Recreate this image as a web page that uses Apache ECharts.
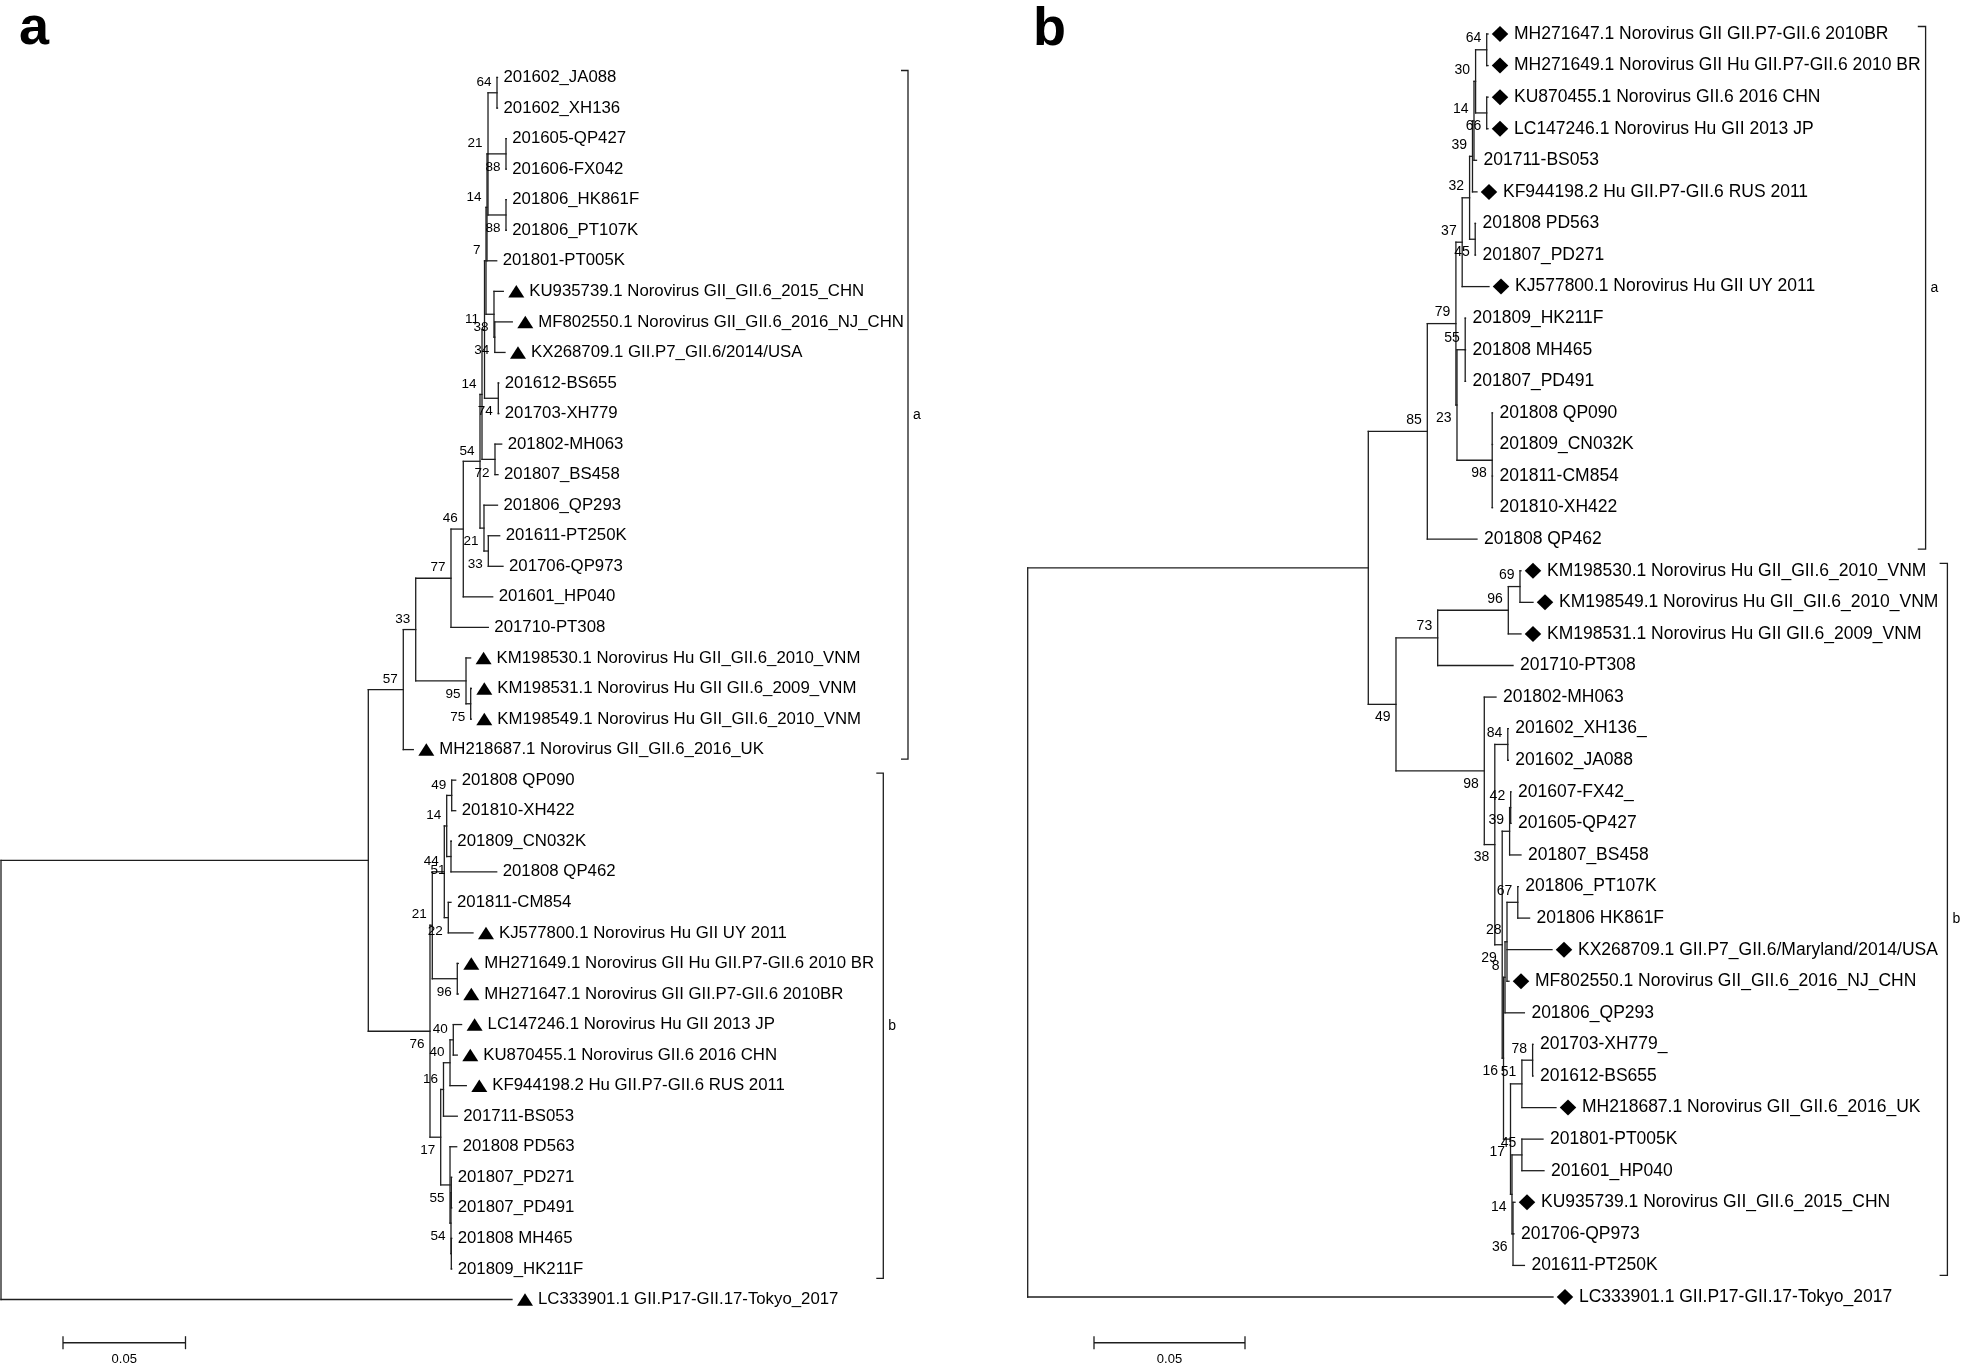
<!DOCTYPE html>
<html>
<head>
<meta charset="utf-8">
<title>GII.6 norovirus phylogenetic trees</title>
<script src="https://cdn.jsdelivr.net/npm/echarts@6.0.0/dist/echarts.min.js"></script>
<style>
  html, body { margin: 0; padding: 0; background: #ffffff; }
  #chart { width: 1961px; height: 1366px; }
</style>
</head>
<body>
<div id="chart"></div>
<script>
// ======================= DATA =======================
// Trees in Newick form: branch length = substitutions per site, internal label = bootstrap (%)

// ---- Panel a ----
const a_E  = "(('201602_JA088':0.0002,'201602_XH136':0.0002)64:0.00367,('201605-QP427':0.00012,'201606-FX042':0.00012)88:0.00734,('201806_HK861F':0.00012,'201806_PT107K':0.00012)88:0.00734)21";
const a_C  = "(" + a_E + ":0.00041,'201801-PT005K':0.00396)14";
const a_KU = "('KU935739.1 Norovirus GII_GII.6_2015_CHN':0.0038,('MF802550.1 Norovirus GII_GII.6_2016_NJ_CHN':0.00714,'KX268709.1 GII.P7_GII.6/2014/USA':0.00416)34:0.00033)38";
const a_B  = "(" + a_C + ":0.00041," + a_KU + ":0.00326)7";
const a_A  = "(" + a_B + ":0.00061,('201612-BS655':0.0002,'201703-XH779':0.0002)74:0.00563)11";
const a_T  = "(" + a_A + ":0.00102,('201802-MH063':0.00274,'201807_BS458':0.00123)72:0.0053)14";
const a_54 = "(" + a_T + ":0.00082,('201806_QP293':0.00551,('201611-PT250K':0.00465,'201706-QP973':0.006)33:0.00176)21:0.00163)54";
const a_77 = "((" + a_54 + ":0.00682,'201601_HP040':0.012)46:0.00502,'201710-PT308':0.01523)77";
const a_95 = "('KM198530.1 Norovirus Hu GII_GII.6_2010_VNM':0.00187,('KM198531.1 Norovirus Hu GII GII.6_2009_VNM':0.00025,'KM198549.1 Norovirus Hu GII_GII.6_2010_VNM':0.00025)75:0.00191)95";
const a_57 = "((" + a_77 + ":0.0144," + a_95 + ":0.02053)33:0.00507,'MH218687.1 Norovirus GII_GII.6_2016_UK':0.00409)57";
const a_X  = "(('201808 QP090':0.00163,'201810-XH422':0.00163)49:0.00204,('201809_CN032K':0.00013,'201808 QP462':0.01866)51:0.00175)14";
const a_21 = "((" + a_X + ":0.00098,('201811-CM854':0.0011,'KJ577800.1 Norovirus Hu GII UY 2011':0.01008)22:0.00163)44:0.0049,('MH271649.1 Norovirus GII Hu GII.P7-GII.6 2010 BR':0.00041,'MH271647.1 Norovirus GII GII.P7-GII.6 2010BR':0.00041)96:0.0102)21";
const a_16 = "((('LC147246.1 Norovirus Hu GII 2013 JP':0.00339,'KU870455.1 Norovirus GII.6 2016 CHN':0.00163)40:0.00134,'KF944198.2 Hu GII.P7-GII.6 RUS 2011':0.00665)40:0.00266,'201711-BS053':0.00563)16";
const a_55 = "('201808 PD563':0.00273,(('201807_PD271':0.00016,'201807_PD491':0.00016):0.00013,('201808 MH465':0.00016,'201809_HK211F':0.00016):0.00013)54:0.0004)55";
const a_76 = "(" + a_21 + ":0.00094,(" + a_16 + ":0.00114," + a_55 + ":0.0038)17:0.00437)76";
const treeA = "((" + a_57 + ":0.01428," + a_76 + ":0.02518):0.14992,'LC333901.1 GII.P17-GII.17-Tokyo_2017':0.20857);";

// ---- Panel b ----
const b_30  = "(('MH271647.1 Norovirus GII GII.P7-GII.6 2010BR':0.00043,'MH271649.1 Norovirus GII Hu GII.P7-GII.6 2010 BR':0.00043)64:0.00368,('KU870455.1 Norovirus GII.6 2016 CHN':0.00043,'LC147246.1 Norovirus Hu GII 2013 JP':0.00043)66:0.00368)30";
const b_39  = "((" + b_30 + ":0.00053,'201711-BS053':0.00083)14:0.0005,'KF944198.2 Hu GII.P7-GII.6 RUS 2011':0.00149)39";
const b_37  = "((" + b_39 + ":0.00096,('201808 PD563':0.0001,'201807_PD271':0.0001)45:0.00186)32:0.00245,'KJ577800.1 Norovirus Hu GII UY 2011':0.00888)37";
const b_23  = "(('201809_HK211F':0.0001,'201808 MH465':0.0001,'201807_PD491':0.0001)55:0.00272,('201808 QP090':0.0001,'201809_CN032K':0.0001,'201811-CM854':0.0001,'201810-XH422':0.0001)98:0.01166)23";
const b_85  = "((" + b_37 + ":0.00208," + b_23 + ":0.00036)79:0.00947,'201808 QP462':0.01645)85";
const b_73  = "((('KM198530.1 Norovirus Hu GII_GII.6_2010_VNM':0.00033,'KM198549.1 Norovirus Hu GII_GII.6_2010_VNM':0.00431)69:0.00387,'KM198531.1 Norovirus Hu GII GII.6_2009_VNM':0.0042)96:0.02338,'201710-PT308':0.02494)73";
const b_39b = "(('201607-FX42_':0.0001,'201605-QP427':0.0001)42:0.00036,'201807_BS458':0.00377)39";
const b_8   = "((('201806_PT107K':0.00014,'201806 HK861F':0.00391)67:0.00357,'KX268709.1 GII.P7_GII.6/Maryland/2014/USA':0.0149,'MF802550.1 Norovirus GII_GII.6_2016_NJ_CHN':0.00066)28:0.00066,'201806_QP293':0.00642)8";
const b_17  = "((('201703-XH779_':0.00013,'201612-BS655':0.00013)78:0.00355,'MH218687.1 Norovirus GII_GII.6_2016_UK':0.01129)51:0.00377,(('201801-PT005K':0.00699,'201601_HP040':0.00732)45:0.00328,('KU935739.1 Norovirus GII_GII.6_2015_CHN':0.00066,'201706-QP973':0.00033,'201611-PT250K':0.00377)36:0.00034)14:0.00049)17";
const b_29  = "(" + b_39b + ":0.00245,(" + b_8 + ":0.0005," + b_17 + ":0.00232)16:0.00043)29";
const b_98  = "('201802-MH063':0.00388,(('201602_XH136_':0.00017,'201602_JA088':0.00017)84:0.0043," + b_29 + ":0.00245)38:0.00348)98";
const treeB = "((" + b_85 + ":0.01954,(" + b_73 + ":0.01381," + b_98 + ":0.02924)49:0.00917):0.11278,'LC333901.1 GII.P17-GII.17-Tokyo_2017':0.17394);";

// Clade brackets: [name, first leaf index, last leaf index]
const cladesA = [['a', 0, 22], ['b', 23, 39]];
const cladesB = [['a', 0, 16], ['b', 17, 39]];
const scaleBarLength = 0.05;
const scaleBarText = '0.05';
const panelLetters = ['a', 'b'];

// ======================= STYLE / LAYOUT =======================
const FAMILY = '"Liberation Sans", Arial, Helvetica, sans-serif';
const LINE = '#1e1e1e';
const REF_RE = /^[A-Z]{2}\d/;   // GenBank reference strains get a marker

const cfgA = {
  grid: { left: 1, top: 77.5, width: 980, height: 1222 }, xMax: 0.4,
  leafFont: 16.8, bootFont: 13.5, marker: 'triangle', mW: 16, mH: 12.5,
  markerDx: 13, textDx: 6, textDxRef: 26, bootDx: 5.5, bootAbove: -10.5, bootBelow: 13.5,
  bracketX: [908, 883.3], tick: 7, brTop: -7, brBottom: 9.5, brFont: 14, brTextDx: 5,
  sbX: 63, sbY: 1342.7, letterX: 19, letterY: 29
};
const cfgB = {
  grid: { left: 1027.7, top: 34, width: 906, height: 1263 }, xMax: 0.3,
  leafFont: 17.5, bootFont: 14, marker: 'diamond', mW: 16.5, mH: 16,
  markerDx: 12, textDx: 7, textDxRef: 26, bootDx: 5.5, bootAbove: -11.5, bootBelow: 13,
  bracketX: [1925.6, 1947.4], tick: 7.8, brTop: -7.5, brBottom: 10, brFont: 14, brTextDx: 5,
  sbX: 1094, sbY: 1342.7, letterX: 1033, letterY: 30
};

// ======================= TREE PARSING / LAYOUT =======================
function parseNewick(s) {
  let i = 0;
  function node() {
    const n = { children: [], name: '', label: '', length: 0 };
    if (s[i] === '(') {
      i++;
      n.children.push(node());
      while (s[i] === ',') { i++; n.children.push(node()); }
      i++; // ')'
      let lab = '';
      while (i < s.length && !':,);'.includes(s[i])) lab += s[i++];
      n.label = lab.trim();
    } else if (s[i] === "'") {
      i++; let nm = '';
      while (s[i] !== "'") nm += s[i++];
      i++; n.name = nm;
    } else {
      let nm = '';
      while (!':,);'.includes(s[i])) nm += s[i++];
      n.name = nm.trim();
    }
    if (s[i] === ':') {
      i++; let num = '';
      while (i < s.length && !',);'.includes(s[i])) num += s[i++];
      n.length = parseFloat(num);
    }
    return n;
  }
  return node();
}

function layoutTree(str) {
  const root = parseNewick(str);
  const leaves = [], internals = [], segs = [];
  let idx = 0;
  (function walk(n, parentDepth, first) {
    n.depth = parentDepth + (n.length || 0);
    n.first = first;
    if (!n.children.length) { n.y = idx++; leaves.push(n); }
    else {
      n.children.forEach((c, j) => walk(c, n.depth, j === 0));
      n.y = (n.children[0].y + n.children[n.children.length - 1].y) / 2;
      internals.push(n);
    }
  })(root, 0, true);
  (function addSegs(n, parent) {
    if (parent) segs.push([parent.depth, n.y, n.depth, n.y]);
    if (n.children.length) {
      segs.push([n.depth, n.children[0].y, n.depth, n.children[n.children.length - 1].y]);
      n.children.forEach(c => addSegs(c, n));
    }
  })(root, null);
  return { leaves, boots: internals.filter(n => n.label !== ''), segs };
}

function panelSeries(k, tree, clades, cfg) {
  const T = layoutTree(tree);
  const ax = { xAxisIndex: k, yAxisIndex: k, coordinateSystem: 'cartesian2d', silent: true, animation: false };
  const out = [];
  // branches
  out.push(Object.assign({
    type: 'custom', name: 'branches' + k,
    data: T.segs.map(s => [s[0], s[1]]),
    renderItem: (params, api) => {
      const s = T.segs[params.dataIndex];
      const p1 = api.coord([s[0], s[1]]), p2 = api.coord([s[2], s[3]]);
      return { type: 'line', shape: { x1: p1[0], y1: p1[1], x2: p2[0], y2: p2[1] },
               style: { stroke: LINE, lineWidth: 1.3, lineCap: 'square' } };
    }
  }, ax));
  // leaf labels + markers
  out.push(Object.assign({
    type: 'custom', name: 'leaves' + k,
    data: T.leaves.map(l => [l.depth, l.y]),
    renderItem: (params, api) => {
      const l = T.leaves[params.dataIndex];
      const p = api.coord([l.depth, l.y]);
      const ref = REF_RE.test(l.name);
      const kids = [];
      if (ref) {
        const cx = p[0] + cfg.markerDx, cy = p[1], w = cfg.mW / 2, h = cfg.mH / 2;
        const pts = cfg.marker === 'triangle'
          ? [[cx, cy - h], [cx + w, cy + h], [cx - w, cy + h]]
          : [[cx, cy - h], [cx + w, cy], [cx, cy + h], [cx - w, cy]];
        kids.push({ type: 'polygon', shape: { points: pts }, style: { fill: '#000' } });
      }
      kids.push({ type: 'text', x: p[0] + (ref ? cfg.textDxRef : cfg.textDx), y: p[1],
        style: { text: l.name, font: cfg.leafFont + 'px ' + FAMILY, fill: '#000', align: 'left', verticalAlign: 'middle' } });
      return { type: 'group', children: kids };
    }
  }, ax));
  // bootstrap values
  out.push(Object.assign({
    type: 'custom', name: 'bootstrap' + k,
    data: T.boots.map(b => [b.depth, b.y]),
    renderItem: (params, api) => {
      const b = T.boots[params.dataIndex];
      const p = api.coord([b.depth, b.y]);
      return { type: 'text', x: p[0] - cfg.bootDx, y: p[1] + (b.first ? cfg.bootAbove : cfg.bootBelow),
        style: { text: b.label, font: cfg.bootFont + 'px ' + FAMILY, fill: '#000', align: 'right', verticalAlign: 'middle' } };
    }
  }, ax));
  // clade brackets
  out.push(Object.assign({
    type: 'custom', name: 'clades' + k,
    data: clades.map(c => [0, c[1]]),
    renderItem: (params, api) => {
      const c = clades[params.dataIndex];
      const x = cfg.bracketX[params.dataIndex];
      const y1 = api.coord([0, c[1]])[1] + cfg.brTop;
      const y2 = api.coord([0, c[2]])[1] + cfg.brBottom;
      return { type: 'group', children: [
        { type: 'polyline', shape: { points: [[x - cfg.tick, y1], [x, y1], [x, y2], [x - cfg.tick, y2]] },
          style: { stroke: LINE, lineWidth: 1.3, fill: null } },
        { type: 'text', x: x + cfg.brTextDx, y: (y1 + y2) / 2,
          style: { text: c[0], font: cfg.brFont + 'px ' + FAMILY, fill: '#000', align: 'left', verticalAlign: 'middle' } }
      ] };
    }
  }, ax));
  // scale bar (length through the x scale)
  out.push(Object.assign({
    type: 'custom', name: 'scalebar' + k,
    data: [[0, 0]],
    renderItem: (params, api) => {
      const len = api.coord([scaleBarLength, 0])[0] - api.coord([0, 0])[0];
      const x0 = cfg.sbX, x1 = cfg.sbX + len, y = cfg.sbY;
      return { type: 'group', children: [
        { type: 'line', shape: { x1: x0, y1: y, x2: x1, y2: y }, style: { stroke: LINE, lineWidth: 1.6 } },
        { type: 'line', shape: { x1: x0, y1: y - 6.5, x2: x0, y2: y + 6.5 }, style: { stroke: LINE, lineWidth: 1.3 } },
        { type: 'line', shape: { x1: x1, y1: y - 6.5, x2: x1, y2: y + 6.5 }, style: { stroke: LINE, lineWidth: 1.3 } },
        { type: 'text', x: (x0 + x1) / 2, y: y + 17,
          style: { text: scaleBarText, font: '13px ' + FAMILY, fill: '#000', align: 'center', verticalAlign: 'middle' } }
      ] };
    }
  }, ax));
  return out;
}

const chart = echarts.init(document.getElementById('chart'), null, { renderer: 'canvas' });
const cfgs = [cfgA, cfgB];
chart.setOption({
  animation: false,
  backgroundColor: '#ffffff',
  grid: cfgs.map(c => Object.assign({ containLabel: false }, c.grid)),
  xAxis: cfgs.map((c, k) => ({ gridIndex: k, type: 'value', min: 0, max: c.xMax, show: false })),
  yAxis: cfgs.map((c, k) => ({ gridIndex: k, type: 'value', min: 0, max: 40, inverse: true, show: false })),
  graphic: panelLetters.map((t, k) => ({
    type: 'text', x: cfgs[k].letterX, y: cfgs[k].letterY, silent: true,
    style: { text: t, font: 'bold 54px ' + FAMILY, fill: '#000', verticalAlign: 'middle' }
  })),
  series: [].concat(panelSeries(0, treeA, cladesA, cfgA), panelSeries(1, treeB, cladesB, cfgB))
});
</script>
</body>
</html>
